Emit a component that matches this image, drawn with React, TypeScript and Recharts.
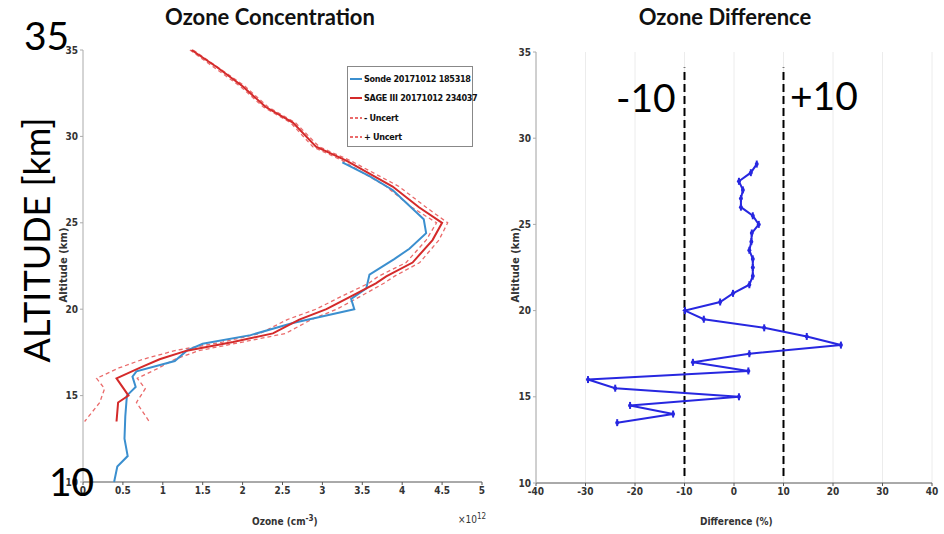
import { ScatterChart, Scatter, XAxis, YAxis, CartesianGrid, ReferenceLine } from 'recharts';

// altitude (km), ozone (x1e12 cm^-3)
const sondeAlt = [28.5, 27.7, 26.9, 25.2, 24.4, 23.5, 22.9, 22, 21.2, 20.6, 20, 19.2, 18.5, 18, 17.6, 17, 16.4, 16.1, 15.5, 15, 13.8, 12.5, 11.5, 10.9, 10];
const sondeO3 = [3.25, 3.59, 3.88, 4.27, 4.3, 4.09, 3.9, 3.59, 3.55, 3.36, 3.4, 2.63, 2.1, 1.5, 1.3, 1.15, 0.67, 0.62, 0.66, 0.55, 0.53, 0.52, 0.56, 0.43, 0.39];

const sageAlt = [35, 34, 32.9, 31.7, 30.8, 29.4, 28.6, 27.1, 25.9, 25, 24, 22.7, 21.9, 21.5, 20.7, 20, 19.4, 18.6, 18.1, 17.6, 17.1, 16.6, 16, 15, 14.6, 13.5];
const sageO3 = [1.36, 1.68, 2.0, 2.29, 2.63, 2.92, 3.3, 3.88, 4.21, 4.5, 4.38, 4.13, 3.8, 3.67, 3.34, 3.05, 2.71, 2.38, 1.88, 1.3, 0.96, 0.71, 0.42, 0.57, 0.44, 0.42];

const uncAlt = [35, 32.9, 31.7, 30.8, 29.4, 28.6, 27.1, 25.9, 25, 24, 22.7, 21.9, 21.5, 20.7, 20, 19.4, 18.6, 18.1, 17.6, 17.1, 16.6, 16, 15.4, 14.6, 13.5];
const uncMinus = [1.34, 1.97, 2.26, 2.6, 2.88, 3.25, 3.8, 4.12, 4.43, 4.3, 4.05, 3.7, 3.58, 3.22, 2.92, 2.56, 2.22, 1.75, 1.15, 0.75, 0.45, 0.17, 0.27, 0.21, 0.02];
const uncPlus = [1.38, 2.03, 2.32, 2.66, 2.96, 3.35, 3.96, 4.3, 4.57, 4.46, 4.22, 3.9, 3.77, 3.46, 3.18, 2.86, 2.54, 2.0, 1.45, 1.15, 0.95, 0.68, 0.78, 0.67, 0.83];

// difference (%) by altitude
const diffAlt = [28.5, 28, 27.5, 27, 26.5, 26, 25.5, 25, 24.5, 24, 23.5, 23, 22.5, 22, 21.5, 21, 20.5, 20, 19.5, 19, 18.5, 18, 17.5, 17, 16.5, 16, 15.5, 15, 14.5, 14, 13.5];
const diffPct = [4.6, 3.4, 1.0, 1.8, 1.4, 1.4, 3.8, 5.0, 3.6, 3.5, 3.1, 3.8, 3.8, 3.8, 3.1, -0.2, -2.8, -9.9, -6.1, 6.1, 14.7, 21.6, 3.1, -8.3, 2.9, -29.5, -24.0, 1.0, -21.0, -12.3, -23.6];

const legendLabels = ['Sonde 20171012 185318', 'SAGE III 20171012 234037', '- Uncert', '+ Uncert'];
const concTicks = [0, 0.5, 1, 1.5, 2, 2.5, 3, 3.5, 4, 4.5, 5];
const diffTicks = [-40, -30, -20, -10, 0, 10, 20, 30, 40];
const altTicks = [10, 15, 20, 25, 30, 35];
const limitLines = [-10, 10];
const limitSpan = [10.4, 34.1];

const toPts = (alt: number[], vals: number[]) => alt.map((a, i) => ({ x: vals[i], y: a }));

const SONDE = '#3b8fcf';
const SAGE = '#d42a2a';
const UNC = '#ea6b6b';
const DIFF = '#2727e0';

const narrow = 'Liberation Sans Narrow, DejaVu Sans Condensed, sans-serif';
const tickFont = { fontSize: 10, fill: '#333', fontFamily: narrow, fontWeight: 700 };
const bigFont: React.CSSProperties = { position: 'absolute', fontFamily: 'Lato, sans-serif', fontSize: 39, color: '#000', lineHeight: 1, whiteSpace: 'nowrap' };

const NoDot = () => <g />;
const DiffDot = (p: any) => (
	<g>
		<line x1={p.cx} x2={p.cx} y1={p.cy - 3.5} y2={p.cy + 3.5} stroke={DIFF} strokeWidth={2} />
		<circle cx={p.cx} cy={p.cy} r={2} fill={DIFF} />
	</g>
);

const LegendBox = () => {
	const styles = [
		{ c: SONDE, d: undefined },
		{ c: SAGE, d: undefined },
		{ c: UNC, d: '3 2' },
		{ c: UNC, d: '3 2' },
	];
	return (
		<div style={{ position: 'absolute', left: 347, top: 66, width: 126, height: 81, border: '1px solid #888', background: '#fff', boxSizing: 'border-box', paddingTop: 2 }}>
			{legendLabels.map((l, i) => (
				<div key={l} style={{ display: 'flex', alignItems: 'center', height: 19.5 }}>
					<svg width={14} height={10} style={{ marginLeft: 1, flex: 'none' }}>
						<line x1={1} x2={13} y1={5} y2={5} stroke={styles[i].c} strokeWidth={2} strokeDasharray={styles[i].d} />
					</svg>
					<span style={{ fontFamily: narrow, fontStretch: 'condensed', fontWeight: 700, fontSize: 9, color: '#111', whiteSpace: 'nowrap', letterSpacing: -0.3, marginLeft: 1 }}>{l}</span>
				</div>
			))}
		</div>
	);
};

const titleStyle: React.CSSProperties = { position: 'absolute', top: 6, fontFamily: 'Lato, sans-serif', fontWeight: 700, fontSize: 22, lineHeight: 1, color: '#111', whiteSpace: 'nowrap', transform: 'translateX(-50%)' };
const smallLabel: React.CSSProperties = { position: 'absolute', fontFamily: narrow, fontWeight: 700, fontSize: 10, color: '#333', whiteSpace: 'nowrap' };

const App = () => {
	return (
		<div style={{ position: 'absolute', left: 0, top: 0, width: 944, height: 534, background: '#fff', overflow: 'hidden' }}>
			<ScatterChart width={500} height={534} margin={{ top: 50, right: 18, bottom: 22, left: 53 }} style={{ position: 'absolute', left: 0, top: 0 }}>
				<XAxis type="number" dataKey="x" domain={[0, 5]} ticks={concTicks} tick={tickFont} tickSize={3} height={30} stroke="#555" />
				<YAxis type="number" dataKey="y" domain={[10, 35]} ticks={altTicks} tick={tickFont} tickSize={3} width={30} stroke="#aaa" />
				<Scatter name={legendLabels[2]} data={toPts(uncAlt, uncMinus)} line={{ stroke: UNC, strokeWidth: 1.3, strokeDasharray: '4 3' }} shape={NoDot} isAnimationActive={false} />
				<Scatter name={legendLabels[3]} data={toPts(uncAlt, uncPlus)} line={{ stroke: UNC, strokeWidth: 1.3, strokeDasharray: '4 3' }} shape={NoDot} isAnimationActive={false} />
				<Scatter name={legendLabels[0]} data={toPts(sondeAlt, sondeO3)} line={{ stroke: SONDE, strokeWidth: 2 }} shape={NoDot} isAnimationActive={false} />
				<Scatter name={legendLabels[1]} data={toPts(sageAlt, sageO3)} line={{ stroke: SAGE, strokeWidth: 2 }} shape={NoDot} isAnimationActive={false} />
			</ScatterChart>
			<LegendBox />

			<ScatterChart width={444} height={534} margin={{ top: 52, right: 12, bottom: 21, left: 6 }} style={{ position: 'absolute', left: 500, top: 0 }}>
				<CartesianGrid horizontal={false} stroke="#ececec" />
				<XAxis type="number" dataKey="x" domain={[-40, 40]} ticks={diffTicks} tick={tickFont} tickSize={3} height={30} stroke="#555" />
				<YAxis type="number" dataKey="y" domain={[10, 35]} ticks={altTicks} tick={tickFont} tickSize={3} width={30} stroke="#aaa" />
				{limitLines.map((v) => (
					<ReferenceLine key={v} segment={[{ x: v, y: limitSpan[0] }, { x: v, y: limitSpan[1] }]} stroke="#000" strokeWidth={2} strokeDasharray="8 4" />
				))}
				<Scatter name="Difference" data={toPts(diffAlt, diffPct)} line={{ stroke: DIFF, strokeWidth: 2 }} shape={DiffDot} isAnimationActive={false} />
			</ScatterChart>

			<div style={{ ...titleStyle, left: 270 }}>Ozone Concentration</div>
			<div style={{ ...titleStyle, left: 725 }}>Ozone Difference</div>

			<div style={{ ...smallLabel, left: 252, top: 514 }}>Ozone (cm<sup style={{ fontSize: 8 }}>-3</sup>)</div>
			<div style={{ ...smallLabel, left: 458, top: 512, fontWeight: 400 }}>×10<sup style={{ fontSize: 8 }}>12</sup></div>
			<div style={{ ...smallLabel, left: 700, top: 516 }}>Difference (%)</div>
			<div style={{ ...smallLabel, left: 63, top: 265, transform: 'translate(-50%, -50%) rotate(-90deg)', fontFamily: 'DejaVu Sans, sans-serif' }}>Altitude (km)</div>
			<div style={{ ...smallLabel, left: 515, top: 265, transform: 'translate(-50%, -50%) rotate(-90deg)', fontFamily: 'DejaVu Sans, sans-serif' }}>Altitude (km)</div>

			<div style={{ ...bigFont, left: 24, top: 16 }}>35</div>
			<div style={{ ...bigFont, left: 49, top: 462 }}>10</div>
			<div style={{ ...bigFont, left: 36, top: 240, fontSize: 36, transform: 'translate(-50%, -50%) rotate(-90deg)' }}>ALTITUDE [km]</div>
			<div style={{ ...bigFont, left: 616, top: 78 }}>-10</div>
			<div style={{ ...bigFont, left: 790, top: 76 }}>+10</div>
		</div>
	);
};

export default App;
